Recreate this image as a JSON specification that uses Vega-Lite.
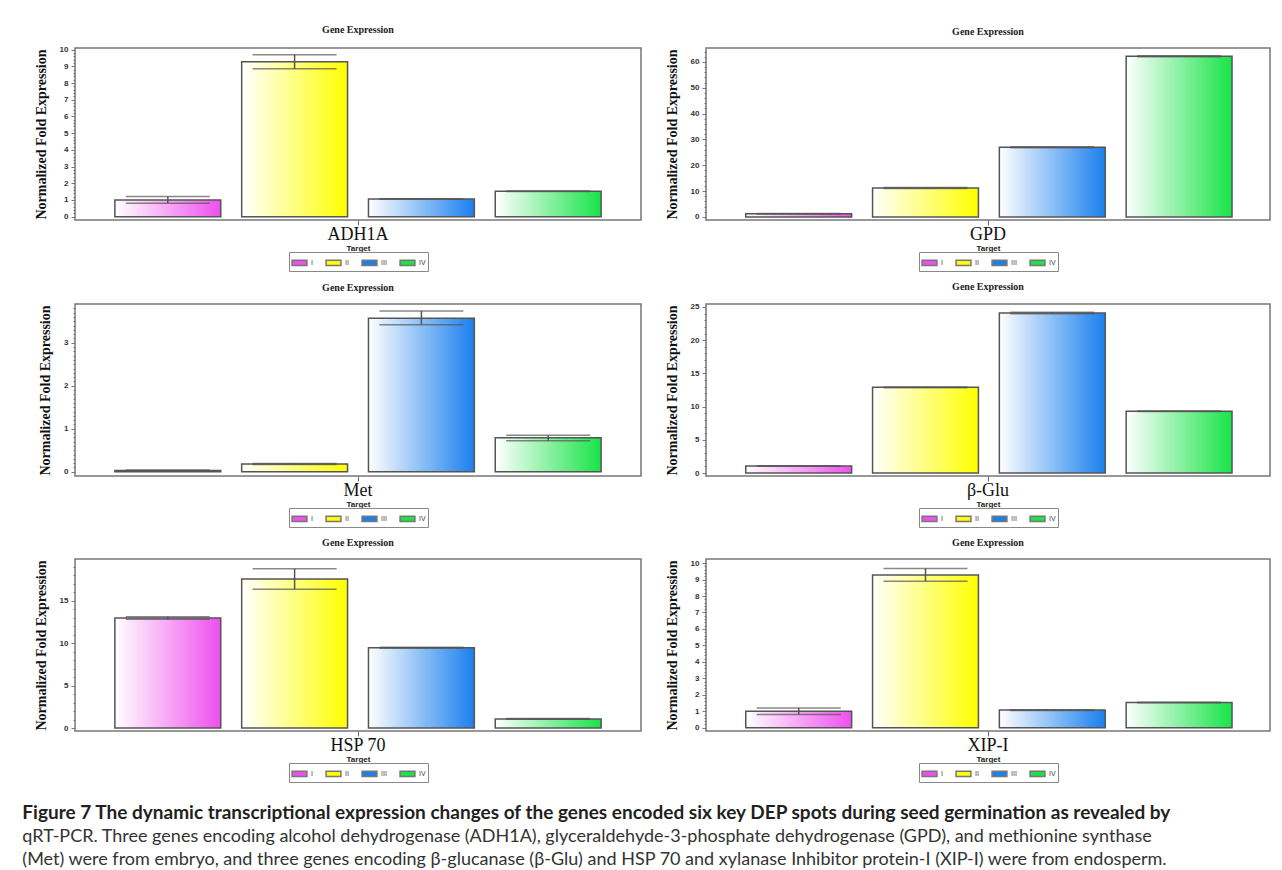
{
  "$schema": "https://vega.github.io/schema/vega-lite/v6.json",
  "background": "white",
  "padding": {"left": 22, "top": 23, "right": 8, "bottom": 4},
  "datasets": {
    "expr": [
      {"gene": "ADH1A", "stage": "I", "value": 1.0, "lo": 0.8, "hi": 1.2},
      {"gene": "ADH1A", "stage": "II", "value": 9.28, "lo": 8.85, "hi": 9.7},
      {"gene": "ADH1A", "stage": "III", "value": 1.06, "lo": 1.04, "hi": 1.08},
      {"gene": "ADH1A", "stage": "IV", "value": 1.52, "lo": 1.5, "hi": 1.54},
      {"gene": "GPD", "stage": "I", "value": 1.2, "lo": 1.1, "hi": 1.3},
      {"gene": "GPD", "stage": "II", "value": 11.2, "lo": 11.0, "hi": 11.4},
      {"gene": "GPD", "stage": "III", "value": 27.0, "lo": 26.8, "hi": 27.2},
      {"gene": "GPD", "stage": "IV", "value": 62.2, "lo": 62.0, "hi": 62.4},
      {"gene": "Met", "stage": "I", "value": 0.03, "lo": 0.02, "hi": 0.04},
      {"gene": "Met", "stage": "II", "value": 0.18, "lo": 0.17, "hi": 0.19},
      {"gene": "Met", "stage": "III", "value": 3.57, "lo": 3.42, "hi": 3.74},
      {"gene": "Met", "stage": "IV", "value": 0.79, "lo": 0.72, "hi": 0.85},
      {"gene": "β-Glu", "stage": "I", "value": 1.05, "lo": 1.0, "hi": 1.1},
      {"gene": "β-Glu", "stage": "II", "value": 12.9, "lo": 12.85, "hi": 12.95},
      {"gene": "β-Glu", "stage": "III", "value": 24.1, "lo": 24.0, "hi": 24.2},
      {"gene": "β-Glu", "stage": "IV", "value": 9.3, "lo": 9.25, "hi": 9.35},
      {"gene": "HSP 70", "stage": "I", "value": 12.95, "lo": 12.8, "hi": 13.1},
      {"gene": "HSP 70", "stage": "II", "value": 17.55, "lo": 16.35, "hi": 18.75},
      {"gene": "HSP 70", "stage": "III", "value": 9.45, "lo": 9.4, "hi": 9.5},
      {"gene": "HSP 70", "stage": "IV", "value": 1.07, "lo": 1.02, "hi": 1.12},
      {"gene": "XIP-I", "stage": "I", "value": 1.0, "lo": 0.8, "hi": 1.2},
      {"gene": "XIP-I", "stage": "II", "value": 9.28, "lo": 8.9, "hi": 9.68},
      {"gene": "XIP-I", "stage": "III", "value": 1.07, "lo": 1.05, "hi": 1.09},
      {"gene": "XIP-I", "stage": "IV", "value": 1.53, "lo": 1.51, "hi": 1.55}
    ]
  },
  "config": {
    "view": {"stroke": "#777", "strokeWidth": 1.5},
    "font": "Liberation Sans",
    "title": {"font": "Liberation Serif", "fontSize": 10, "fontWeight": "bold", "color": "#222", "offset": 11},
    "axisY": {
      "titleFont": "Liberation Serif", "titleFontSize": 14, "titleFontWeight": "bold", "titleColor": "#111",
      "labelFont": "Liberation Sans", "labelFontSize": 8, "labelFontWeight": "bold", "labelColor": "#333",
      "tickColor": "#777", "tickSize": 4, "domain": false, "grid": false, "titlePadding": 11, "labelPadding": 3
    },
    "axisX": {
      "labelFont": "Liberation Serif", "labelFontSize": 18, "labelColor": "#111", "labelAngle": 0,
      "tickColor": "#666", "tickSize": 5, "domain": false,
      "titleFont": "Liberation Sans", "titleFontSize": 8, "titleFontWeight": "bold", "titleColor": "#222",
      "titlePadding": 1, "labelPadding": 0
    },
    "legend": {
      "orient": "bottom", "direction": "horizontal", "title": null, "columns": 4,
      "symbolType": "M-1,-0.35H1V0.35H-1Z", "symbolSize": 220, "symbolStrokeColor": "#777", "symbolStrokeWidth": 1,
      "labelFont": "Liberation Sans", "labelFontSize": 7, "labelColor": "#444", "labelOffset": 3,
      "strokeColor": "#888", "padding": 2, "columnPadding": 10, "offset": 0, "symbolOpacity": 1,
      "layout": {"bottom": {"anchor": "middle"}}
    },
    "bar": {"strokeWidth": 1.5}
  },
  "title": {
    "text": "Figure 7 The dynamic transcriptional expression changes of the genes encoded six key DEP spots during seed germination as revealed by",
    "subtitle": [
      "qRT-PCR. Three genes encoding alcohol dehydrogenase (ADH1A), glyceraldehyde-3-phosphate dehydrogenase (GPD), and methionine synthase",
      "(Met) were from embryo, and three genes encoding β-glucanase (β-Glu) and HSP 70 and xylanase Inhibitor protein-I (XIP-I) were from endosperm."
    ],
    "orient": "bottom", "anchor": "start", "frame": "bounds", "dx": -11, "offset": 21,
    "font": "Lato", "fontSize": 19, "fontWeight": "bold", "color": "#231f20",
    "subtitleFont": "Lato", "subtitleFontSize": 18, "subtitleFontWeight": "normal", "subtitleColor": "#333",
    "subtitleLineHeight": 23, "subtitlePadding": 5
  },
  "spacing": 8,
  "resolve": {"scale": {"color": "independent"}, "legend": {"color": "independent"}},
  "vconcat": [
    {
      "spacing": 22,
      "resolve": {"scale": {"color": "independent"}, "legend": {"color": "independent"}},
      "hconcat": [
        {
          "width": 566, "height": 172,
          "title": "Gene Expression",
          "data": {"name": "expr"},
          "transform": [{"filter": "datum.gene === 'ADH1A'"}],
          "encoding": {
            "x": {"field": "gene", "type": "nominal", "scale": {"paddingOuter": 0.058, "paddingInner": 0}, "axis": {"title": "Target"}},
            "xOffset": {"field": "stage", "type": "nominal", "sort": ["I", "II", "III", "IV"], "scale": {"paddingInner": 0.165, "paddingOuter": 0.0825}}
          },
          "resolve": {"axis": {"y": "independent"}},
          "layer": [
            {"mark": {"type": "bar"}, "encoding": {
              "y": {"field": "value", "type": "quantitative", "scale": {"domain": [-0.2, 10.1], "nice": false, "zero": false},
                "axis": {"title": "Normalized Fold Expression", "values": [0,1,2,3,4,5,6,7,8,9,10]}},
              "y2": {"datum": 0},
              "color": {"field": "stage", "type": "nominal", "scale": {"domain": ["I", "II", "III", "IV"], "range": ["#ee50ee", "#ffff00", "#1a80ee", "#18e448"]}}
            }},
            {"mark": {"type": "bar", "color": {"gradient": "linear", "x1": 0, "x2": 1, "y1": 0, "y2": 0, "stops": [{"offset": 0, "color": "#ffffff"}, {"offset": 1, "color": "rgba(255,255,255,0)"}]}, "stroke": "#555", "strokeWidth": 1.5},
              "encoding": {"y": {"field": "value", "type": "quantitative", "axis": {"orient": "left", "title": null, "labels": false, "tickSize": 2, "offset": 0,
                  "values": [0.2,0.4,0.6,0.8,1.2,1.4,1.6,1.8,2.2,2.4,2.6,2.8,3.2,3.4,3.6,3.8,4.2,4.4,4.6,4.8,5.2,5.4,5.6,5.8,6.2,6.4,6.6,6.8,7.2,7.4,7.6,7.8,8.2,8.4,8.6,8.8,9.2,9.4,9.6,9.8]}}, "y2": {"datum": 0}}},
            {"mark": {"type": "rule", "color": "#555", "strokeWidth": 1.5}, "encoding": {"y": {"field": "lo", "type": "quantitative", "axis": null}, "y2": {"field": "hi"}}},
            {"mark": {"type": "tick", "color": "#555", "thickness": 1.5, "size": 84}, "encoding": {"y": {"field": "lo", "type": "quantitative", "axis": null}}},
            {"mark": {"type": "tick", "color": "#555", "thickness": 1.5, "size": 84}, "encoding": {"y": {"field": "hi", "type": "quantitative", "axis": null}}}
          ]
        },
        {
          "width": 564, "height": 172,
          "title": "Gene Expression",
          "data": {"name": "expr"},
          "transform": [{"filter": "datum.gene === 'GPD'"}],
          "encoding": {
            "x": {"field": "gene", "type": "nominal", "scale": {"paddingOuter": 0.058, "paddingInner": 0}, "axis": {"title": "Target"}},
            "xOffset": {"field": "stage", "type": "nominal", "sort": ["I", "II", "III", "IV"], "scale": {"paddingInner": 0.165, "paddingOuter": 0.0825}}
          },
          "resolve": {"axis": {"y": "independent"}},
          "layer": [
            {"mark": {"type": "bar"}, "encoding": {
              "y": {"field": "value", "type": "quantitative", "scale": {"domain": [-1.2, 65.4], "nice": false, "zero": false},
                "axis": {"title": "Normalized Fold Expression", "values": [0,10,20,30,40,50,60]}},
              "y2": {"datum": 0},
              "color": {"field": "stage", "type": "nominal", "scale": {"domain": ["I", "II", "III", "IV"], "range": ["#ee50ee", "#ffff00", "#1a80ee", "#18e448"]}}
            }},
            {"mark": {"type": "bar", "color": {"gradient": "linear", "x1": 0, "x2": 1, "y1": 0, "y2": 0, "stops": [{"offset": 0, "color": "#ffffff"}, {"offset": 1, "color": "rgba(255,255,255,0)"}]}, "stroke": "#555", "strokeWidth": 1.5},
              "encoding": {"y": {"field": "value", "type": "quantitative", "axis": {"orient": "left", "title": null, "labels": false, "tickSize": 2, "offset": 0,
                  "values": [2,4,6,8,12,14,16,18,22,24,26,28,32,34,36,38,42,44,46,48,52,54,56,58,62,64]}}, "y2": {"datum": 0}}},
            {"mark": {"type": "rule", "color": "#555", "strokeWidth": 1.5}, "encoding": {"y": {"field": "lo", "type": "quantitative", "axis": null}, "y2": {"field": "hi"}}},
            {"mark": {"type": "tick", "color": "#555", "thickness": 1.5, "size": 84}, "encoding": {"y": {"field": "lo", "type": "quantitative", "axis": null}}},
            {"mark": {"type": "tick", "color": "#555", "thickness": 1.5, "size": 84}, "encoding": {"y": {"field": "hi", "type": "quantitative", "axis": null}}}
          ]
        }
      ]
    },
    {
      "spacing": 22,
      "resolve": {"scale": {"color": "independent"}, "legend": {"color": "independent"}},
      "hconcat": [
        {
          "width": 566, "height": 172,
          "title": "Gene Expression",
          "data": {"name": "expr"},
          "transform": [{"filter": "datum.gene === 'Met'"}],
          "encoding": {
            "x": {"field": "gene", "type": "nominal", "scale": {"paddingOuter": 0.058, "paddingInner": 0}, "axis": {"title": "Target"}},
            "xOffset": {"field": "stage", "type": "nominal", "sort": ["I", "II", "III", "IV"], "scale": {"paddingInner": 0.165, "paddingOuter": 0.0825}}
          },
          "resolve": {"axis": {"y": "independent"}},
          "layer": [
            {"mark": {"type": "bar"}, "encoding": {
              "y": {"field": "value", "type": "quantitative", "scale": {"domain": [-0.1, 3.9], "nice": false, "zero": false},
                "axis": {"title": "Normalized Fold Expression", "values": [0,1,2,3]}},
              "y2": {"datum": 0},
              "color": {"field": "stage", "type": "nominal", "scale": {"domain": ["I", "II", "III", "IV"], "range": ["#ee50ee", "#ffff00", "#1a80ee", "#18e448"]}}
            }},
            {"mark": {"type": "bar", "color": {"gradient": "linear", "x1": 0, "x2": 1, "y1": 0, "y2": 0, "stops": [{"offset": 0, "color": "#ffffff"}, {"offset": 1, "color": "rgba(255,255,255,0)"}]}, "stroke": "#555", "strokeWidth": 1.5},
              "encoding": {"y": {"field": "value", "type": "quantitative", "axis": {"orient": "left", "title": null, "labels": false, "tickSize": 2, "offset": 0,
                  "values": [0.1,0.2,0.3,0.4,0.5,0.6,0.7,0.8,0.9,1.1,1.2,1.3,1.4,1.5,1.6,1.7,1.8,1.9,2.1,2.2,2.3,2.4,2.5,2.6,2.7,2.8,2.9,3.1,3.2,3.3,3.4,3.5,3.6,3.7,3.8]}}, "y2": {"datum": 0}}},
            {"mark": {"type": "rule", "color": "#555", "strokeWidth": 1.5}, "encoding": {"y": {"field": "lo", "type": "quantitative", "axis": null}, "y2": {"field": "hi"}}},
            {"mark": {"type": "tick", "color": "#555", "thickness": 1.5, "size": 84}, "encoding": {"y": {"field": "lo", "type": "quantitative", "axis": null}}},
            {"mark": {"type": "tick", "color": "#555", "thickness": 1.5, "size": 84}, "encoding": {"y": {"field": "hi", "type": "quantitative", "axis": null}}}
          ]
        },
        {
          "width": 564, "height": 172,
          "title": "Gene Expression",
          "data": {"name": "expr"},
          "transform": [{"filter": "datum.gene === 'β-Glu'"}],
          "encoding": {
            "x": {"field": "gene", "type": "nominal", "scale": {"paddingOuter": 0.058, "paddingInner": 0}, "axis": {"title": "Target"}},
            "xOffset": {"field": "stage", "type": "nominal", "sort": ["I", "II", "III", "IV"], "scale": {"paddingInner": 0.165, "paddingOuter": 0.0825}}
          },
          "resolve": {"axis": {"y": "independent"}},
          "layer": [
            {"mark": {"type": "bar"}, "encoding": {
              "y": {"field": "value", "type": "quantitative", "scale": {"domain": [-0.45, 25.45], "nice": false, "zero": false},
                "axis": {"title": "Normalized Fold Expression", "values": [0,5,10,15,20,25]}},
              "y2": {"datum": 0},
              "color": {"field": "stage", "type": "nominal", "scale": {"domain": ["I", "II", "III", "IV"], "range": ["#ee50ee", "#ffff00", "#1a80ee", "#18e448"]}}
            }},
            {"mark": {"type": "bar", "color": {"gradient": "linear", "x1": 0, "x2": 1, "y1": 0, "y2": 0, "stops": [{"offset": 0, "color": "#ffffff"}, {"offset": 1, "color": "rgba(255,255,255,0)"}]}, "stroke": "#555", "strokeWidth": 1.5},
              "encoding": {"y": {"field": "value", "type": "quantitative", "axis": {"orient": "left", "title": null, "labels": false, "tickSize": 2, "offset": 0,
                  "values": [1,2,3,4,6,7,8,9,11,12,13,14,16,17,18,19,21,22,23,24]}}, "y2": {"datum": 0}}},
            {"mark": {"type": "rule", "color": "#555", "strokeWidth": 1.5}, "encoding": {"y": {"field": "lo", "type": "quantitative", "axis": null}, "y2": {"field": "hi"}}},
            {"mark": {"type": "tick", "color": "#555", "thickness": 1.5, "size": 84}, "encoding": {"y": {"field": "lo", "type": "quantitative", "axis": null}}},
            {"mark": {"type": "tick", "color": "#555", "thickness": 1.5, "size": 84}, "encoding": {"y": {"field": "hi", "type": "quantitative", "axis": null}}}
          ]
        }
      ]
    },
    {
      "spacing": 22,
      "resolve": {"scale": {"color": "independent"}, "legend": {"color": "independent"}},
      "hconcat": [
        {
          "width": 566, "height": 172,
          "title": "Gene Expression",
          "data": {"name": "expr"},
          "transform": [{"filter": "datum.gene === 'HSP 70'"}],
          "encoding": {
            "x": {"field": "gene", "type": "nominal", "scale": {"paddingOuter": 0.058, "paddingInner": 0}, "axis": {"title": "Target"}},
            "xOffset": {"field": "stage", "type": "nominal", "sort": ["I", "II", "III", "IV"], "scale": {"paddingInner": 0.165, "paddingOuter": 0.0825}}
          },
          "resolve": {"axis": {"y": "independent"}},
          "layer": [
            {"mark": {"type": "bar"}, "encoding": {
              "y": {"field": "value", "type": "quantitative", "scale": {"domain": [-0.35, 19.9], "nice": false, "zero": false},
                "axis": {"title": "Normalized Fold Expression", "values": [0,5,10,15]}},
              "y2": {"datum": 0},
              "color": {"field": "stage", "type": "nominal", "scale": {"domain": ["I", "II", "III", "IV"], "range": ["#ee50ee", "#ffff00", "#1a80ee", "#18e448"]}}
            }},
            {"mark": {"type": "bar", "color": {"gradient": "linear", "x1": 0, "x2": 1, "y1": 0, "y2": 0, "stops": [{"offset": 0, "color": "#ffffff"}, {"offset": 1, "color": "rgba(255,255,255,0)"}]}, "stroke": "#555", "strokeWidth": 1.5},
              "encoding": {"y": {"field": "value", "type": "quantitative", "axis": {"orient": "left", "title": null, "labels": false, "tickSize": 2, "offset": 0,
                  "values": [1,2,3,4,6,7,8,9,11,12,13,14,16,17,18,19]}}, "y2": {"datum": 0}}},
            {"mark": {"type": "rule", "color": "#555", "strokeWidth": 1.5}, "encoding": {"y": {"field": "lo", "type": "quantitative", "axis": null}, "y2": {"field": "hi"}}},
            {"mark": {"type": "tick", "color": "#555", "thickness": 1.5, "size": 84}, "encoding": {"y": {"field": "lo", "type": "quantitative", "axis": null}}},
            {"mark": {"type": "tick", "color": "#555", "thickness": 1.5, "size": 84}, "encoding": {"y": {"field": "hi", "type": "quantitative", "axis": null}}}
          ]
        },
        {
          "width": 564, "height": 172,
          "title": "Gene Expression",
          "data": {"name": "expr"},
          "transform": [{"filter": "datum.gene === 'XIP-I'"}],
          "encoding": {
            "x": {"field": "gene", "type": "nominal", "scale": {"paddingOuter": 0.058, "paddingInner": 0}, "axis": {"title": "Target"}},
            "xOffset": {"field": "stage", "type": "nominal", "sort": ["I", "II", "III", "IV"], "scale": {"paddingInner": 0.165, "paddingOuter": 0.0825}}
          },
          "resolve": {"axis": {"y": "independent"}},
          "layer": [
            {"mark": {"type": "bar"}, "encoding": {
              "y": {"field": "value", "type": "quantitative", "scale": {"domain": [-0.2, 10.25], "nice": false, "zero": false},
                "axis": {"title": "Normalized Fold Expression", "values": [0,1,2,3,4,5,6,7,8,9,10]}},
              "y2": {"datum": 0},
              "color": {"field": "stage", "type": "nominal", "scale": {"domain": ["I", "II", "III", "IV"], "range": ["#ee50ee", "#ffff00", "#1a80ee", "#18e448"]}}
            }},
            {"mark": {"type": "bar", "color": {"gradient": "linear", "x1": 0, "x2": 1, "y1": 0, "y2": 0, "stops": [{"offset": 0, "color": "#ffffff"}, {"offset": 1, "color": "rgba(255,255,255,0)"}]}, "stroke": "#555", "strokeWidth": 1.5},
              "encoding": {"y": {"field": "value", "type": "quantitative", "axis": {"orient": "left", "title": null, "labels": false, "tickSize": 2, "offset": 0,
                  "values": [0.2,0.4,0.6,0.8,1.2,1.4,1.6,1.8,2.2,2.4,2.6,2.8,3.2,3.4,3.6,3.8,4.2,4.4,4.6,4.8,5.2,5.4,5.6,5.8,6.2,6.4,6.6,6.8,7.2,7.4,7.6,7.8,8.2,8.4,8.6,8.8,9.2,9.4,9.6,9.8]}}, "y2": {"datum": 0}}},
            {"mark": {"type": "rule", "color": "#555", "strokeWidth": 1.5}, "encoding": {"y": {"field": "lo", "type": "quantitative", "axis": null}, "y2": {"field": "hi"}}},
            {"mark": {"type": "tick", "color": "#555", "thickness": 1.5, "size": 84}, "encoding": {"y": {"field": "lo", "type": "quantitative", "axis": null}}},
            {"mark": {"type": "tick", "color": "#555", "thickness": 1.5, "size": 84}, "encoding": {"y": {"field": "hi", "type": "quantitative", "axis": null}}}
          ]
        }
      ]
    }
  ]
}
